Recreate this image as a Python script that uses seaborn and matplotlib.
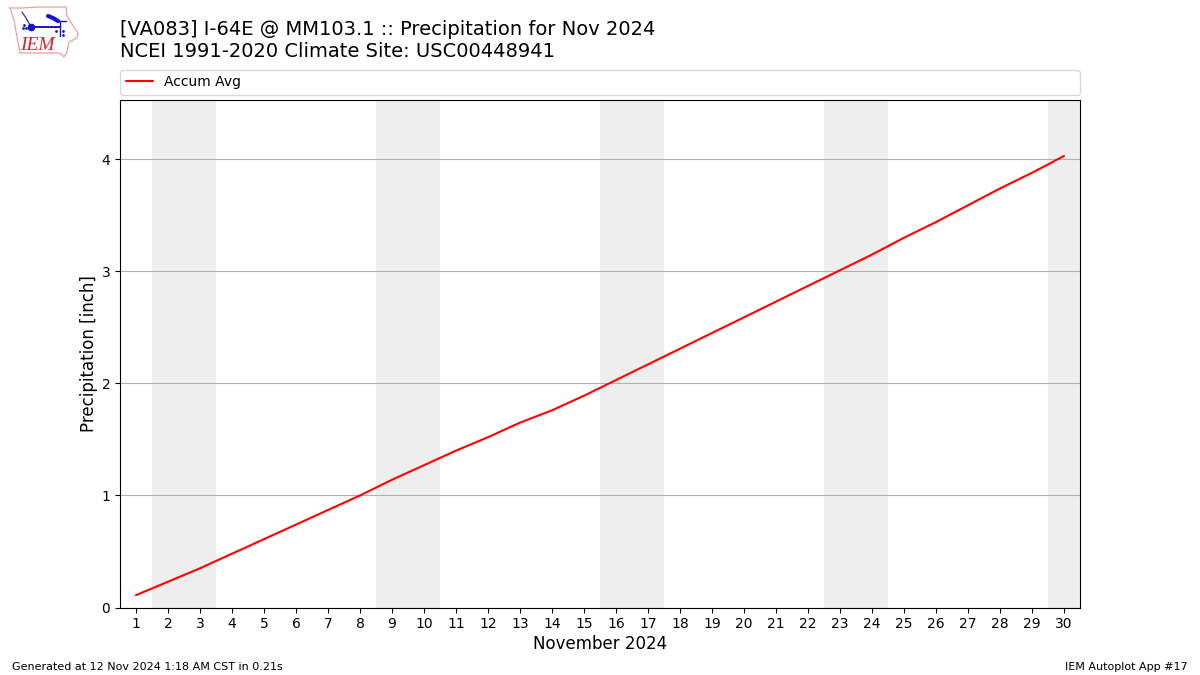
import matplotlib
matplotlib.use("Agg")
import matplotlib.pyplot as plt
import pandas as pd
import seaborn as sns

# accumulated climatology
days = list(range(1, 31))
accum_avg = [0.11, 0.23, 0.35, 0.48, 0.61, 0.74, 0.87, 1.00, 1.14, 1.27,
             1.40, 1.52, 1.65, 1.76, 1.89, 2.03, 2.17, 2.31, 2.45, 2.59,
             2.73, 2.87, 3.01, 3.15, 3.30, 3.44, 3.59, 3.74, 3.88, 4.03]
weekend_days = [2, 3, 9, 10, 16, 17, 23, 24, 30]
y_ticks = [0, 1, 2, 3, 4]

title = "[VA083] I-64E @ MM103.1 :: Precipitation for Nov 2024\nNCEI 1991-2020 Climate Site: USC00448941"
footer_left = "Generated at 12 Nov 2024 1:18 AM CST in 0.21s"
footer_right = "IEM Autoplot App #17"

# logo outline and glyph strokes, in screen pixels
logo_x = [10, 22, 40, 66, 67, 72, 78, 77, 69, 67, 64, 61, 58, 20, 17, 14, 10]
logo_y = [8, 8, 7, 7, 16, 24, 33, 38, 42, 52, 57, 54, 53, 53, 37, 20, 8]
station_x = [31, 60]
station_y = [27, 27]
mast_x = [60, 60]
mast_y = [21, 36]
vane_x = [48, 53, 58]
vane_y = [16, 18, 21]
tail_x = [57, 66]
tail_y = [21, 21]
barb_x = [22, 26, 31]
barb_y = [12, 18, 27]
dots_x = [23, 26, 24, 56, 63, 63]
dots_y = [28, 28, 25, 31, 31, 35]

df = pd.DataFrame({"day": days, "precip": accum_avg})

sns.set_style("ticks")
plt.rcParams["font.family"] = ["DejaVu Sans"]

fig = plt.figure(figsize=(12, 6.75), dpi=100)
ax = fig.add_axes([0.1, 0.1, 0.8, 0.7519])

for d in weekend_days:
    ax.axvspan(d - 0.5, d + 0.5, color="#eeeeee", lw=0, zorder=0)

sns.lineplot(data=df, x="day", y="precip", color="red", lw=1.5, label="Accum Avg", ax=ax, zorder=3)

ax.set_xlim(0.5, 30.5)
ax.set_ylim(0, 4.53)
ax.set_xticks(days)
ax.set_yticks(y_ticks)
ax.tick_params(labelsize=10, length=3.5, width=0.8, color="black", labelcolor="black")
ax.grid(True, axis="y", color="#b0b0b0", lw=0.8, zorder=1)
ax.grid(False, axis="x")
ax.set_axisbelow(True)
for s in ax.spines.values():
    s.set_visible(True)
    s.set_color("black")
    s.set_linewidth(0.8)
ax.set_xlabel("November 2024", fontsize=12, color="black", labelpad=3)
ax.set_ylabel("Precipitation [inch]", fontsize=12, color="black", labelpad=2.5)

ax.legend(loc="lower left", bbox_to_anchor=(0, 1.01, 1, 0.05), mode="expand", ncol=1,
          fontsize=10, frameon=True, borderaxespad=0, labelcolor="black")

fig.text(0.1, 0.910, title, fontsize=14, ha="left", va="bottom", color="black", linespacing=1.2)
fig.text(0.01, 0.0075, footer_left, fontsize=8, color="black")
fig.text(0.99, 0.0075, footer_right, fontsize=8, ha="right", color="black")

# logo
logo = fig.add_axes([0, 1 - 60 / 675, 85 / 1200, 60 / 675])
logo.set_xlim(0, 85)
logo.set_ylim(60, 0)
logo.axis("off")
logo.plot(logo_x, logo_y, color="#e6a0a0", lw=0.9)
logo.plot(station_x, station_y, color="#1414d2", lw=1.4)
logo.plot(mast_x, mast_y, color="#1414d2", lw=1.0)
logo.plot(vane_x, vane_y, color="#1414d2", lw=3)
logo.plot(tail_x, tail_y, color="#1414d2", lw=1.0)
logo.plot(barb_x, barb_y, color="#1414d2", lw=0.8)
logo.plot([31], [27], "o", color="#1414d2", ms=4.5)
logo.plot(dots_x, dots_y, ".", color="#1414d2", ms=2)
logo.text(37.5, 46, "IEM", color="#d8202a", fontsize=14, family="Liberation Serif",
          style="italic", ha="center", va="center")

fig.savefig("out.png", dpi=100)
